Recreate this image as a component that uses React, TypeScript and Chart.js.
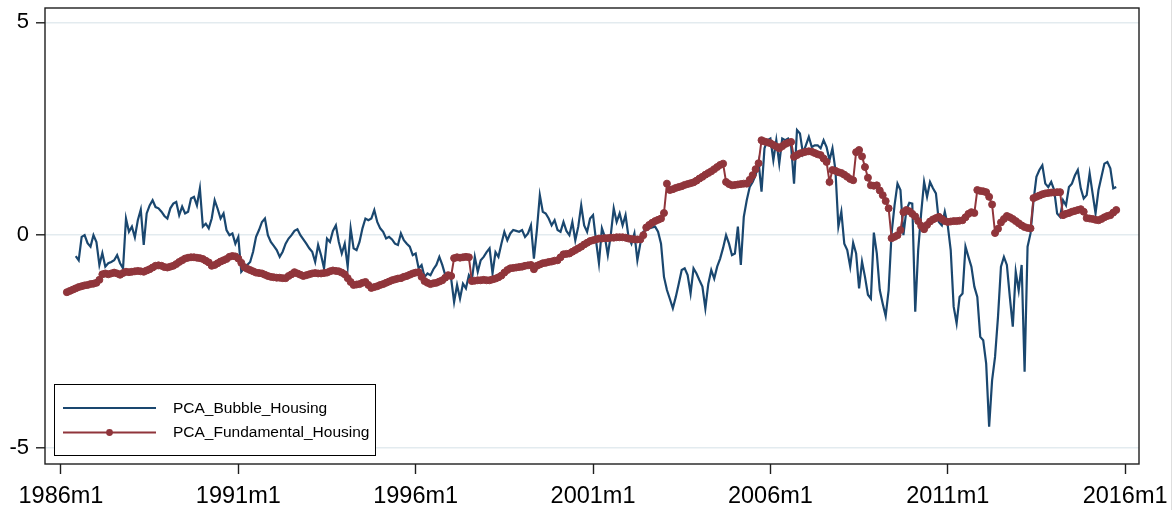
import React, { useEffect, useRef } from "react";
import { Chart, registerables } from "chart.js";

Chart.register(...registerables);

// Months are counted from 1986m1 (= 0).
const bubbleStartMonth = 5;
const bubbleHousing: number[] = [
  -0.49, -0.59, -0.04, 0.0, -0.19, -0.27, 0.0, -0.16, -0.7, -0.42, -0.74, -0.66,
  -0.63, -0.59, -0.47, -0.66, -0.78, 0.39, 0.08, 0.2, -0.05, 0.35, 0.6, -0.23,
  0.51, 0.7, 0.82, 0.66, 0.63, 0.55, 0.45, 0.39, 0.63, 0.74, 0.78, 0.47,
  0.67, 0.51, 0.55, 0.86, 0.9, 0.7, 1.1, 0.2, 0.27, 0.16, 0.39, 0.82,
  0.62, 0.39, 0.51, 0.12, 0.0, 0.04, -0.2, -0.04, -0.86, -0.78, -0.7, -0.63,
  -0.39, -0.04, 0.12, 0.31, 0.39, 0.0, -0.16, -0.25, -0.35, -0.51, -0.39, -0.2,
  -0.08, 0.0, 0.1, 0.14, 0.0, -0.1, -0.2, -0.31, -0.39, -0.63, -0.23, -0.47,
  -0.78, -0.08, -0.16, 0.1, 0.23, -0.16, -0.43, -0.2, -0.74, 0.16, -0.31, -0.35,
  -0.16, 0.16, 0.39, 0.35, 0.39, 0.59, 0.31, 0.16, 0.08, -0.08, -0.04, -0.1,
  -0.2, -0.23, 0.04, -0.12, -0.2, -0.27, -0.47, -0.43, -0.78, -0.7, -0.98, -0.9,
  -0.94, -0.8, -0.7, -0.51, -0.7, -0.94, -0.9, -1.02, -1.57, -1.17, -1.49, -1.14,
  -1.25, -0.94, -1.06, -0.51, -0.86, -0.59, -0.51, -0.4, -0.31, -0.9, -0.4, -0.51,
  -0.2, 0.08, -0.12, 0.04, 0.12, 0.1, 0.08, 0.12, -0.04, 0.04, 0.23, -0.55,
  0.12, 0.94, 0.55, 0.51, 0.39, 0.23, 0.35, 0.12, 0.08, 0.31, 0.1, 0.0,
  0.31, -0.12, 0.2, 0.7, 0.23, 0.08, 0.39, 0.47, -0.12, -0.66, 0.16, -0.04,
  -0.47, 0.0, 0.63, 0.31, 0.51, 0.23, 0.47, -0.04, -0.2, 0.04, -0.59, -0.2,
  0.08, 0.12, 0.16, 0.18, 0.2, 0.08, -0.2, -0.98, -1.29, -1.5, -1.72, -1.45,
  -1.14, -0.82, -0.78, -0.94, -1.37, -0.78, -0.9, -1.06, -1.21, -1.72, -1.14, -0.82,
  -1.02, -0.74, -0.55, -0.3, 0.0, -0.2, -0.47, -0.43, 0.2, -0.7, 0.43, 0.82,
  1.13, 1.25, 1.41, 1.72, 1.02, 2.04, 2.23, 2.27, 1.76, 2.23, 1.68, 2.27,
  2.23, 2.27, 2.11, 1.21, 2.47, 2.39, 1.92, 2.11, 2.31, 2.07, 2.11, 2.11,
  2.04, 2.23, 2.07, 1.76, 2.04, 1.53, 0.2, 0.55, -0.2, -0.35, -0.74, -0.18,
  -0.43, -1.25, -0.62, -0.98, -1.4, -1.49, 0.06, -0.43, -1.29, -1.61, -1.9, -1.29,
  0.04, 0.7, 1.21, 1.06, 0.0, 0.59, 0.76, 0.74, -1.8, -0.35, 0.51, 1.25,
  0.9, 1.25, 1.1, 0.98, 0.31, 0.23, 0.55, 0.23, -0.35, -1.68, -2.07, -1.45,
  -1.37, -0.27, -0.51, -0.74, -1.21, -1.45, -2.39, -2.47, -3.02, -4.5, -3.41, -2.86,
  -1.92, -0.74, -0.51, -0.7, -1.45, -2.15, -0.86, -1.3, -0.7, -3.21, -0.27, 0.04,
  0.8, 1.37, 1.53, 1.64, 1.21, 1.13, 1.25, 1.06, 0.51, 0.43, 0.82, 0.7,
  1.13, 1.21, 1.4, 1.53, 1.1, 0.86, 0.94, 1.45, 0.98, 0.51, 1.06, 1.37,
  1.68, 1.72, 1.57, 1.1, 1.13,
];

const fundamentalStartMonth = 2;
const fundamentalHousing: number[] = [
  -1.34, -1.31, -1.28, -1.25, -1.22, -1.2, -1.18, -1.17, -1.15, -1.14, -1.12, -1.05,
  -0.92, -0.9, -0.92, -0.9, -0.88, -0.9, -0.93, -0.89, -0.86, -0.87, -0.86, -0.85,
  -0.84, -0.85, -0.86, -0.83, -0.8, -0.76, -0.72, -0.71, -0.72, -0.75, -0.76, -0.74,
  -0.72, -0.68, -0.63, -0.59, -0.55, -0.53, -0.52, -0.52, -0.53, -0.54, -0.56, -0.6,
  -0.64, -0.72, -0.7, -0.66, -0.62, -0.59, -0.56, -0.51, -0.49, -0.5, -0.55, -0.65,
  -0.75, -0.79, -0.82, -0.85, -0.88, -0.89, -0.9, -0.93, -0.96, -0.98, -0.99, -1.0,
  -1.0, -1.01, -1.01, -0.96, -0.92, -0.87, -0.9, -0.93, -0.96, -0.94, -0.92, -0.9,
  -0.89, -0.9, -0.9, -0.89, -0.88, -0.85, -0.83, -0.84, -0.85, -0.88, -0.92, -1.01,
  -1.1, -1.17, -1.16, -1.15, -1.12, -1.1, -1.17, -1.24, -1.22, -1.2, -1.17, -1.15,
  -1.12, -1.09, -1.06, -1.04, -1.02, -1.01, -0.98, -0.96, -0.93, -0.9, -0.88, -0.87,
  -0.98, -1.08, -1.12, -1.15, -1.13, -1.12, -1.09, -1.06, -1.0, -0.94, -0.96, -0.54,
  -0.52, -0.53, -0.52, -0.51, -0.52, -1.08, -1.07, -1.06, -1.06, -1.05, -1.06, -1.06,
  -1.04, -1.02, -0.99, -0.95, -0.88, -0.82, -0.78, -0.77, -0.76, -0.75, -0.74, -0.72,
  -0.71, -0.7, -0.8, -0.72, -0.69, -0.66, -0.65, -0.63, -0.62, -0.6, -0.59, -0.52,
  -0.45, -0.44, -0.43, -0.39, -0.35, -0.31, -0.27, -0.22, -0.18, -0.14, -0.12, -0.1,
  -0.08, -0.08, -0.07, -0.07, -0.06, -0.06, -0.05, -0.05, -0.05, -0.06, -0.08, -0.09,
  -0.1, -0.1, -0.1, 0.0, 0.18, 0.24, 0.29, 0.33, 0.36, 0.39, 0.52, 1.21,
  1.06, 1.08, 1.11, 1.13, 1.15, 1.18, 1.2, 1.22, 1.24, 1.28, 1.33, 1.37,
  1.42, 1.46, 1.5, 1.55, 1.6, 1.65, 1.68, 1.25, 1.2, 1.17, 1.18, 1.19,
  1.2, 1.21, 1.21, 1.3, 1.41, 1.55, 1.69, 2.23, 2.2, 2.18, 2.16, 2.12,
  2.08, 2.04, 2.09, 2.14, 2.17, 2.19, 1.84, 1.88, 1.92, 1.94, 1.96, 1.97,
  1.96, 1.93, 1.9, 1.88, 1.8, 1.72, 1.25, 1.53, 1.51, 1.48, 1.46, 1.42,
  1.37, 1.32, 1.29, 1.95, 2.0, 1.85, 1.6, 1.35, 1.17, 1.16, 1.17, 1.05,
  0.94, 0.8, 0.63, -0.07, -0.04, 0.0, 0.12, 0.54, 0.59, 0.56, 0.5, 0.44,
  0.33, 0.22, 0.14, 0.24, 0.32, 0.37, 0.4, 0.43, 0.38, 0.33, 0.31, 0.32,
  0.33, 0.33, 0.34, 0.35, 0.42, 0.5, 0.54, 0.52, 1.06, 1.04, 1.03, 1.01,
  0.9, 0.72, 0.05, 0.15, 0.3, 0.38, 0.45, 0.42, 0.38, 0.33, 0.28, 0.23,
  0.19, 0.17, 0.16, 0.87, 0.9, 0.93, 0.96, 0.98, 0.99, 1.0, 1.0, 1.01,
  1.01, 0.47, 0.5, 0.52, 0.55, 0.57, 0.59, 0.61, 0.55, 0.4, 0.39, 0.38,
  0.36, 0.35, 0.38, 0.42, 0.45, 0.47, 0.53, 0.59,
];

const xTickMonths = [0, 60, 120, 180, 240, 300, 360];
const xTickLabels = ["1986m1", "1991m1", "1996m1", "2001m1", "2006m1", "2011m1", "2016m1"];
const yTickValues = [-5, 0, 5];
const seriesLabels = ["PCA_Bubble_Housing", "PCA_Fundamental_Housing"];

const NAVY = "#1a476f";
const MAROON = "#90353b";
const FONT = "'Liberation Sans', Arial, Helvetica, sans-serif";

const toPoints = (start: number, values: number[]) =>
  values.map((y, i) => ({ x: start + i, y }));

// Box round the plot region, drawn over the series ends.
const framePlugin = {
  id: "plotFrame",
  afterDatasetsDraw(chart: any) {
    const { ctx, chartArea: a } = chart;
    ctx.save();
    ctx.strokeStyle = "#1e1e1e";
    ctx.lineWidth = 1.4;
    ctx.strokeRect(a.left, a.top, a.right - a.left, a.bottom - a.top);
    ctx.strokeStyle = "#dedede";
    ctx.lineWidth = 1;
    ctx.beginPath();
    ctx.moveTo(1171.5, 0);
    ctx.lineTo(1171.5, chart.height);
    ctx.stroke();
    ctx.restore();
  },
};

// Boxed legend in the lower-left corner of the plot.
const legendPlugin = {
  id: "boxLegend",
  afterDraw(chart: any) {
    const ctx = chart.ctx;
    const left = 54.5;
    const top = 384.5;
    const width = 321;
    const height = 71;
    ctx.save();
    ctx.fillStyle = "#ffffff";
    ctx.fillRect(left, top, width, height);
    ctx.strokeStyle = "#000000";
    ctx.lineWidth = 1;
    ctx.strokeRect(left, top, width, height);
    const rowY = [408, 432.5];
    chart.data.datasets.forEach((ds: any, i: number) => {
      const y = rowY[i];
      ctx.strokeStyle = ds.borderColor;
      ctx.lineWidth = 2;
      ctx.beginPath();
      ctx.moveTo(63, y);
      ctx.lineTo(156, y);
      ctx.stroke();
      if (ds.pointRadius > 0) {
        ctx.fillStyle = ds.pointBackgroundColor;
        ctx.beginPath();
        ctx.arc(109.5, y, 3.4, 0, Math.PI * 2);
        ctx.fill();
      }
      ctx.fillStyle = "#000000";
      ctx.font = `15.5px ${FONT}`;
      ctx.textBaseline = "middle";
      ctx.textAlign = "left";
      ctx.fillText(ds.label, 173, y + 0.5);
    });
    ctx.restore();
  },
};

export default function App() {
  const canvasRef = useRef<HTMLCanvasElement | null>(null);

  useEffect(() => {
    const canvas = canvasRef.current;
    if (!canvas) return;
    const chart = new Chart(canvas, {
      type: "line",
      data: {
        datasets: [
          {
            label: seriesLabels[0],
            data: toPoints(bubbleStartMonth, bubbleHousing),
            borderColor: NAVY,
            borderWidth: 2.2,
            pointRadius: 0,
            tension: 0,
            order: 1,
          },
          {
            label: seriesLabels[1],
            data: toPoints(fundamentalStartMonth, fundamentalHousing),
            borderColor: MAROON,
            borderWidth: 2,
            pointRadius: 3.5,
            pointBackgroundColor: MAROON,
            pointBorderColor: MAROON,
            pointBorderWidth: 1,
            tension: 0,
            order: 0,
          },
        ],
      } as any,
      options: {
        responsive: false,
        animation: false,
        events: [],
        layout: { padding: { top: 8, right: 37, bottom: 0, left: 0 } },
        plugins: { legend: { display: false }, tooltip: { enabled: false } },
        scales: {
          x: {
            type: "linear",
            min: -5.4,
            max: 364.7,
            afterFit(scale: any) {
              scale.height = 46;
              scale.paddingLeft = 0;
              scale.paddingRight = 0;
            },
            afterBuildTicks(scale: any) {
              scale.ticks = xTickMonths.map((value) => ({ value }));
            },
            ticks: {
              callback: (_v: any, index: number) => xTickLabels[index],
              font: { family: FONT, size: 23.5 },
              color: "#000000",
              padding: 8,
              maxRotation: 0,
              autoSkip: false,
            },
            grid: {
              drawOnChartArea: false,
              drawTicks: true,
              tickLength: 10,
              tickColor: "#1e1e1e",
              tickWidth: 1.4,
            },
            border: { display: false },
          },
          y: {
            min: -5.376,
            max: 5.336,
            afterFit(scale: any) {
              scale.width = 45;
              scale.paddingTop = 0;
              scale.paddingBottom = 0;
            },
            afterBuildTicks(scale: any) {
              scale.ticks = yTickValues.map((value) => ({ value }));
            },
            ticks: {
              callback: (v: any) => String(v),
              font: { family: FONT, size: 22 },
              color: "#000000",
              padding: 7,
            },
            grid: {
              color: "#e3ebef",
              lineWidth: 1.6,
              drawTicks: true,
              tickLength: 9,
              tickColor: "#1e1e1e",
              tickWidth: 1.4,
            },
            border: { display: false },
          },
        },
      } as any,
      plugins: [framePlugin, legendPlugin],
    });
    return () => chart.destroy();
  }, []);

  return (
    <div
      style={{
        position: "fixed",
        left: 0,
        top: 0,
        width: 1176,
        height: 510,
        background: "#ffffff",
      }}
    >
      <canvas ref={canvasRef} width={1176} height={510} style={{ display: "block" }} />
    </div>
  );
}
